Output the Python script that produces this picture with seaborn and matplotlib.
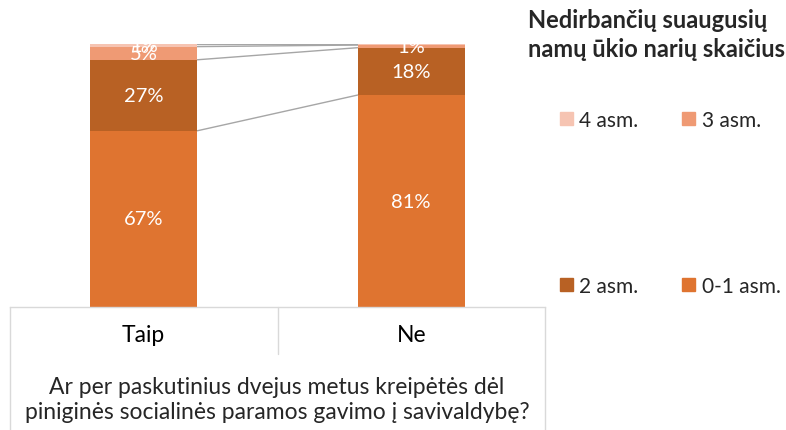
import numpy as np
import pandas as pd
import matplotlib
matplotlib.use("Agg")
import matplotlib.pyplot as plt
import matplotlib.patches as mpatches
import seaborn as sns

# ─── DATA ───────────────────────────────────────────────────────────────────
categories = ["Taip", "Ne"]
series_names = ["0-1 asm.", "2 asm.", "3 asm.", "4 asm."]
share_0_1 = [67, 80.6]
share_2 = [27, 18]
share_3 = [5, 1]
share_4 = [1, 0.4]

colors = {
    "0-1 asm.": "#DF7430",
    "2 asm.": "#B86124",
    "3 asm.": "#EF9A74",
    "4 asm.": "#F6C4B2",
}
legend_title = "Nedirbančių suaugusių\nnamų ūkio narių skaičius"
xlabel = "Ar per paskutinius dvejus metus kreipėtės dėl\npiniginės socialinės paramos gavimo į savivaldybę?"
# ─────────────────────────────────────────────────────────────────────────────

sns.set_theme(style="white")
plt.rcParams["font.family"] = ["Lato", "DejaVu Sans"]

df = pd.DataFrame({"cat": categories, "0-1 asm.": share_0_1, "2 asm.": share_2,
                   "3 asm.": share_3, "4 asm.": share_4})
cum = df[series_names].cumsum(axis=1)

fig = plt.figure(figsize=(7.86, 4.31), dpi=100)
ax = fig.add_axes([10 / 786, 123 / 431, 535 / 786, 263 / 431])

# draw cumulative totals from the top down so each segment shows
for name in reversed(series_names):
    sns.barplot(x=df["cat"], y=cum[name], color=colors[name], width=0.4,
                saturation=1, order=categories, ax=ax, linewidth=0)

ax.set_xlim(-0.5, 1.5)
ax.set_ylim(0, 100)
ax.set_yticks([])
ax.set_ylabel("")
ax.set_xlabel("")
for s in ["top", "left", "right"]:
    ax.spines[s].set_visible(False)
ax.spines["bottom"].set_color("#D9D9D9")
ax.spines["bottom"].set_linewidth(1)
ax.tick_params(axis="x", length=0, pad=12, labelsize=16.5, colors="black")

# series lines between bars
for name in series_names:
    ax.plot([0.2, 0.8], [cum[name][0], cum[name][1]], color="#A6A6A6", lw=1, zorder=0)

# percentage labels
for name in series_names:
    for i in range(len(categories)):
        v = df[name][i]
        if v < 0.5:
            continue
        mid = cum[name][i] - v / 2
        ax.text(i, mid, f"{v:.0f}%", ha="center", va="center",
                color="white", fontsize=14.5)

# category box below axis
trans = ax.get_xaxis_transform()
for x, y0 in [(-0.5, -0.47), (1.5, -0.47), (0.5, -0.18)]:
    ax.plot([x, x], [0, y0], color="#D9D9D9", lw=1, transform=trans, clip_on=False)

fig.text(277 / 786, 1 - 400 / 431, xlabel, ha="center", va="center",
         fontsize=16.5, linespacing=1.25)

# legend
fig.text(528 / 786, 1 - 9 / 431, legend_title, ha="left", va="top",
         fontsize=17, fontweight="bold", linespacing=1.3)
handles = {n: mpatches.Patch(color=colors[n], label=n) for n in series_names}
order = ["4 asm.", "2 asm.", "3 asm.", "0-1 asm."]
fig.legend([handles[n] for n in order], order, ncol=2, frameon=False,
           loc="upper left", bbox_to_anchor=(560 / 786, 1 - 111 / 431),
           borderpad=0, borderaxespad=0,
           fontsize=15, handlelength=0.63, handleheight=0.63, handletextpad=0.3,
           columnspacing=2.1, labelspacing=7.0)

fig.savefig("out.png", dpi=100)
